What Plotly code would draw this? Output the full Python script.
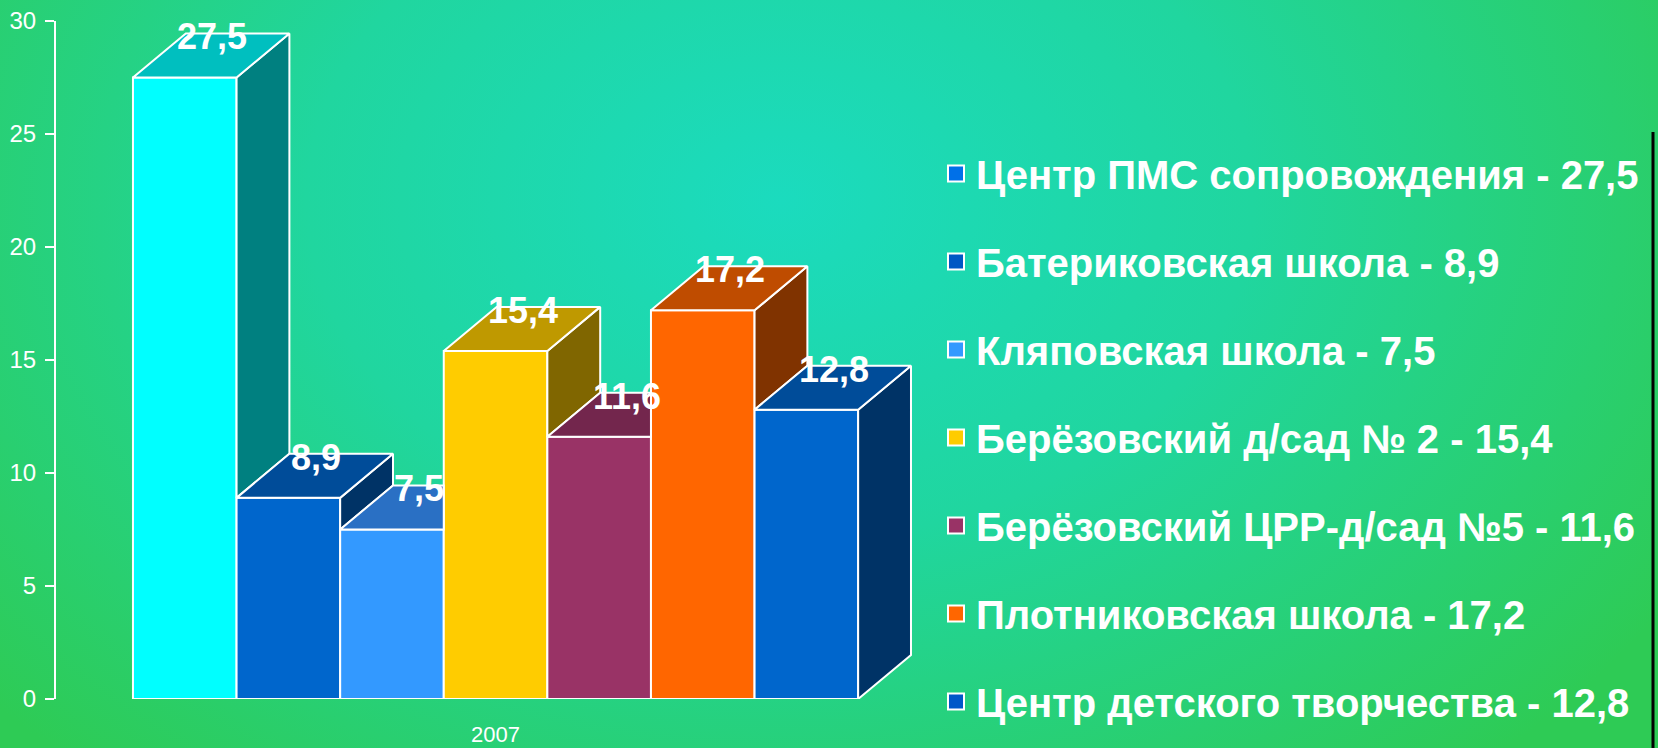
import plotly.graph_objects as go

# ---------------- data ----------------
categories = [
    "Центр ПМС сопровождения",
    "Батериковская школа",
    "Кляповская школа",
    "Берёзовский д/сад № 2",
    "Берёзовский ЦРР-д/сад №5",
    "Плотниковская школа",
    "Центр детского творчества",
]
values = [27.5, 8.9, 7.5, 15.4, 11.6, 17.2, 12.8]
value_labels = ["27,5", "8,9", "7,5", "15,4", "11,6", "17,2", "12,8"]
year_label = "2007"
y_ticks = [0, 5, 10, 15, 20, 25, 30]

# ---------------- styles ----------------
front_colors = ["#00FFFF", "#0066CC", "#3399FF", "#FFCC00", "#993366", "#FF6600", "#0066CC"]
top_colors = ["#00BFBF", "#004C99", "#2A70C4", "#BF9900", "#73264D", "#BF4C00", "#004C99"]
side_colors = ["#008080", "#003366", "#1A4D80", "#806600", "#4D1A33", "#803300", "#003366"]
legend_colors = ["#0070E8", "#0058C4", "#3399FF", "#FFCC00", "#993366", "#FF6600", "#0058C8"]

FW, FH = 1658, 748
X_RANGE = [-1.243, 7.097]
Y_RANGE = [0, 30]
DEPTH_X = 0.51   # depth offset in x data units
DEPTH_Y = 1.95   # depth offset in y data units
FONT = "Liberation Sans, Arial, sans-serif"

fig = go.Figure()

# background gradient (decoration on full-figure axes)
cx, cy, hw, hh = 780, FH - 200, 1050, 760
fig.add_trace(go.Scatter(
    x=[cx - hw, cx + hw, cx + hw, cx - hw, cx - hw],
    y=[cy - hh, cy - hh, cy + hh, cy + hh, cy - hh],
    mode="lines", fill="toself", line=dict(width=0),
    fillgradient=dict(type="radial",
                      colorscale=[[0, "#1BDBBE"], [0.45, "#20D69F"], [1, "#2ECB55"]]),
    hoverinfo="skip", showlegend=False, xaxis="x", yaxis="y",
))

n = len(values)
# front faces as bars
for i, (cat, v) in enumerate(zip(categories, values)):
    fig.add_trace(go.Bar(
        x=[i], y=[v], width=1,
        marker=dict(color=front_colors[i], line=dict(color="white", width=2)),
        name=cat, legendgroup=f"g{i}", showlegend=False,
        xaxis="x2", yaxis="y2", hovertemplate=f"{cat}: {value_labels[i]}<extra></extra>",
    ))

# top and side faces
for i, v in enumerate(values):
    L, R = i - 0.5, i + 0.5
    nxt = values[i + 1] if i + 1 < n else 0
    if v > nxt:
        sx = [R, R + DEPTH_X, R + DEPTH_X, R, R]
        sy = [nxt, nxt + DEPTH_Y, v + DEPTH_Y, v, nxt]
        fig.add_trace(go.Scatter(
            x=sx, y=sy, mode="lines", fill="toself", fillcolor=side_colors[i],
            line=dict(color="white", width=2), legendgroup=f"g{i}", showlegend=False,
            hoverinfo="skip", xaxis="x2", yaxis="y2",
        ))
    if i + 1 < n and nxt >= v + DEPTH_Y:
        tx = [L, R, R, L + DEPTH_X, L]
    else:
        tx = [L, R, R + DEPTH_X, L + DEPTH_X, L]
    ty = [v, v, v + DEPTH_Y, v + DEPTH_Y, v]
    fig.add_trace(go.Scatter(
        x=tx, y=ty, mode="lines", fill="toself", fillcolor=top_colors[i],
        line=dict(color="white", width=2), legendgroup=f"g{i}", showlegend=False,
        hoverinfo="skip", xaxis="x2", yaxis="y2",
    ))

# legend entries
for i, cat in enumerate(categories):
    fig.add_trace(go.Scatter(
        x=[None], y=[None], mode="markers",
        marker=dict(symbol="square", size=16, color=legend_colors[i],
                    line=dict(color="white", width=2)),
        name=f"{cat} - {value_labels[i]}", legendgroup=f"g{i}", showlegend=True,
        xaxis="x2", yaxis="y2",
    ))

# value labels
for i, v in enumerate(values):
    fig.add_annotation(
        x=i + DEPTH_X * 0.52, y=v + 1.8, xref="x2", yref="y2",
        text=value_labels[i], showarrow=False, xanchor="center", yanchor="middle",
        font=dict(family=FONT, size=36, color="white", weight="bold"),
    )

fig.add_shape(type="line", xref="paper", yref="paper",
              x0=1653 / FW, x1=1653 / FW, y0=0, y1=(FH - 132) / FH,
              line=dict(color="black", width=3))

fig.update_layout(
    width=FW, height=FH,
    margin=dict(l=0, r=0, t=0, b=0, autoexpand=False),
    paper_bgcolor="#2ECB55", plot_bgcolor="rgba(0,0,0,0)",
    barmode="overlay",
    font=dict(family=FONT, color="white"),
    xaxis=dict(domain=[0, 1], range=[0, FW], visible=False, fixedrange=True),
    yaxis=dict(domain=[0, 1], range=[0, FH], visible=False, fixedrange=True),
    xaxis2=dict(domain=[56 / FW, 920 / FW], range=X_RANGE, anchor="y2",
                showgrid=False, zeroline=False, showline=False,
                tickmode="array", tickvals=[(n - 1) / 2], ticktext=[year_label],
                ticks="", tickfont=dict(family=FONT, size=22, color="white"),
                ticklabelstandoff=20),
    yaxis2=dict(domain=[49 / FH, 727 / FH], range=Y_RANGE, anchor="x2",
                tickmode="array", tickvals=y_ticks,
                showgrid=False, zeroline=False, showline=True,
                linecolor="white", linewidth=2,
                ticks="outside", ticklen=9, tickwidth=2, tickcolor="white",
                tickfont=dict(family=FONT, size=24, color="white"),
                ticklabelstandoff=4),
    showlegend=True,
    legend=dict(xref="paper", yref="paper",
                x=936 / FW, y=1 - 141 / FH, xanchor="left", yanchor="top",
                font=dict(family=FONT, size=40, color="white", weight="bold"),
                traceorder="grouped", tracegroupgap=33,
                bgcolor="rgba(0,0,0,0)", borderwidth=0),
)
try:
    fig.update_layout(legend_maxheight=740)
except Exception:
    pass

fig.write_html(
    "out.html",
    config={"displayModeBar": False},
    post_script="document.body.style.margin='0';document.body.style.overflow='hidden';",
)
